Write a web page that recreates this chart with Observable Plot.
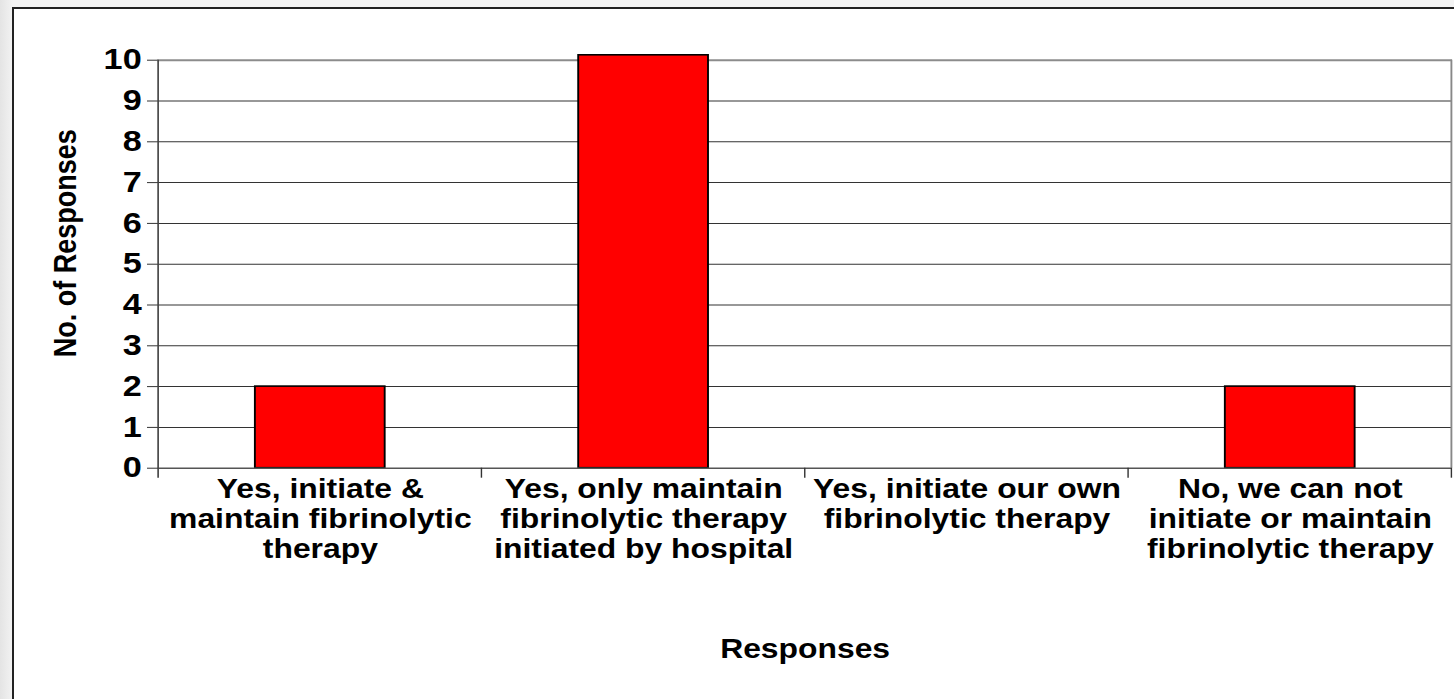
<!DOCTYPE html>
<html><head><meta charset="utf-8">
<script src="https://cdn.jsdelivr.net/npm/d3@7"></script>
<script src="https://cdn.jsdelivr.net/npm/@observablehq/plot@0.6"></script>
<style>
html,body{margin:0;padding:0;width:1454px;height:699px;overflow:hidden;background:linear-gradient(to right,#e4e4e4,#f3f3f3 13px);}
#frame{position:absolute;left:12px;top:7px;width:1500px;height:800px;border:2px solid #222;background:#fff;}
#chart{position:absolute;left:0;top:0;}
</style></head><body><div id="frame"></div><div id="chart"></div>
<script>
const categories = [
  "Yes, initiate & maintain fibrinolytic therapy",
  "Yes, only maintain fibrinolytic therapy initiated by hospital",
  "Yes, initiate our own fibrinolytic therapy",
  "No, we can not initiate or maintain fibrinolytic therapy"
];
const tickLabels = [
  "Yes, initiate &\nmaintain fibrinolytic\ntherapy",
  "Yes, only maintain\nfibrinolytic therapy\ninitiated by hospital",
  "Yes, initiate our own\nfibrinolytic therapy",
  "No, we can not\ninitiate or maintain\nfibrinolytic therapy"
];
const responses = [2, 10.12, 0, 2];
const yTicks = [0, 1, 2, 3, 4, 5, 6, 7, 8, 9, 10];
const xTitle = "Responses";
const yTitle = "No. of Responses";

const STRETCH = 1.18;
const W = 1454 / STRETCH, H = 699;
const data = categories.map((c, i) => ({category: c, count: responses[i]}));

function boundaryTicks(index, scales, values, dimensions) {
  const x = scales.x, y = scales.y;
  const step = x(categories[1]) - x(categories[0]);
  const edges = categories.map(c => x(c));
  edges.push(edges[edges.length - 1] + step);
  const y0 = y(0), yTop = y(d3.max(yTicks));
  const g = d3.create("svg:g");
  g.append("line").attr("x1", edges[0]).attr("x2", edges[0])
    .attr("y1", yTop).attr("y2", y0 + 10).attr("stroke", "#444").attr("stroke-width", 1.4);
  g.append("line").attr("x1", edges[edges.length - 1]).attr("x2", edges[edges.length - 1])
    .attr("y1", yTop).attr("y2", y0).attr("stroke", "#888").attr("stroke-width", 1.6);
  for (const e of edges.slice(1)) {
    g.append("line").attr("x1", e).attr("x2", e).attr("y1", y0).attr("y2", y0 + 10)
      .attr("stroke", "#333").attr("stroke-width", 1.2);
  }
  return g.node();
}

const chart = Plot.plot({
  width: W,
  height: H,
  marginLeft: 157 / STRETCH,
  marginRight: W - 1452 / STRETCH,
  marginTop: 59.7,
  marginBottom: H - 467.7,
  style: {fontFamily: "Arial, 'Liberation Sans', sans-serif", fontSize: "27px", fontWeight: "bold", background: "none", color: "#000"},
  x: {domain: categories, paddingInner: 0, paddingOuter: 0},
  y: {domain: [0, 10]},
  marks: [
    Plot.ruleY(yTicks.filter(d => d > 0 && d < 10), {y: d => d, stroke: "#333", strokeWidth: 1}),
    Plot.ruleY([10], {stroke: "#8c8c8c", strokeWidth: 2}),
    Plot.barY(data, {x: "category", y: "count", fill: "#ff0000", stroke: "#000", strokeWidth: 1.6, insetLeft: 82, insetRight: 82}),
    Plot.ruleY([0], {stroke: "#555", strokeWidth: 1.6}),
    boundaryTicks,
    Plot.axisY({ticks: yTicks, tickSize: 8.5, tickPadding: 5, stroke: "#333", fontSize: 29, label: null}),
    Plot.text([yTitle], {text: d => d, frameAnchor: "left", textAnchor: "middle", rotate: -90, dx: 55 - 157 / STRETCH, dy: -21, fontSize: 27, fontWeight: "bold"}),
    Plot.axisX({tickSize: 0, tickPadding: 8, lineHeight: 1.12, tickFormat: d => tickLabels[categories.indexOf(d)], label: xTitle, labelAnchor: "center", labelArrow: "none", labelOffset: 190})
  ]
});
chart.setAttribute("width", 1454);
chart.setAttribute("height", 699);
chart.setAttribute("preserveAspectRatio", "none");
chart.style.width = "1454px";
chart.style.height = "699px";
chart.style.maxWidth = "none";
document.getElementById("chart").appendChild(chart);
</script></body></html>
